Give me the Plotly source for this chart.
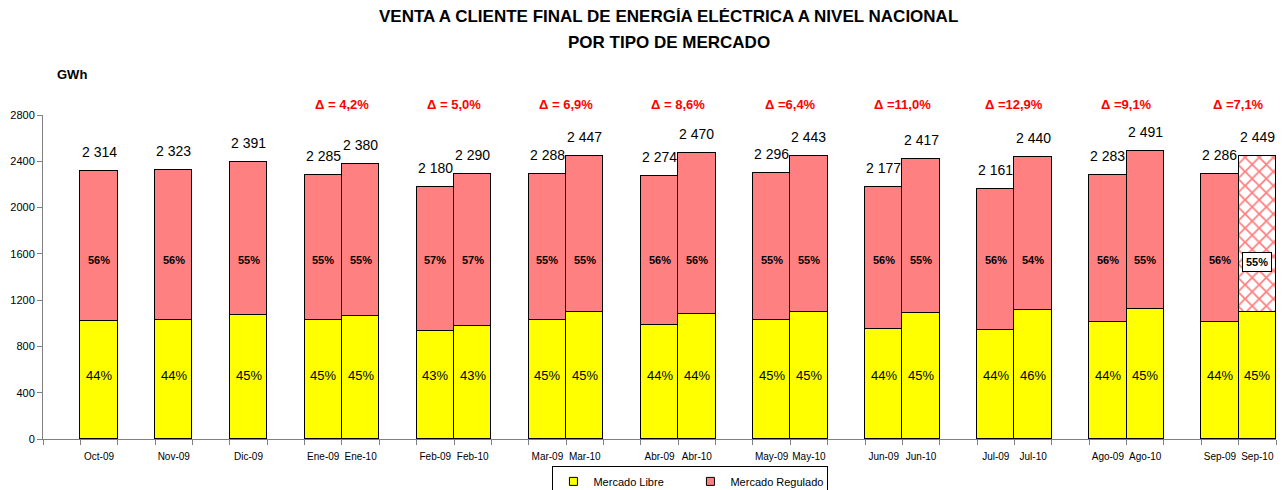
import plotly.graph_objects as go

# ---------------- data ----------------
categories = ["Oct-09", "Nov-09", "Dic-09",
              "Ene-09", "Ene-10", "Feb-09", "Feb-10", "Mar-09", "Mar-10",
              "Abr-09", "Abr-10", "May-09", "May-10", "Jun-09", "Jun-10",
              "Jul-09", "Jul-10", "Ago-09", "Ago-10", "Sep-09", "Sep-10"]
# group id: bars sharing an id are drawn side by side
groups = [0, 1, 2, 3, 3, 4, 4, 5, 5, 6, 6, 7, 7, 8, 8, 9, 9, 10, 10, 11, 11]

libre = [1020, 1025, 1070, 1025, 1062, 935, 978, 1027, 1098, 988, 1082,
         1030, 1098, 952, 1085, 943, 1112, 1010, 1124, 1010, 1095]
regulado = [1294, 1298, 1321, 1260, 1318, 1245, 1312, 1261, 1349, 1286, 1388,
            1266, 1345, 1225, 1332, 1218, 1328, 1273, 1367, 1276, 1354]
total_labels = ["2 314", "2 323", "2 391", "2 285", "2 380", "2 180", "2 290",
                "2 288", "2 447", "2 274", "2 470", "2 296", "2 443", "2 177",
                "2 417", "2 161", "2 440", "2 283", "2 491", "2 286", "2 449"]
pct_libre = ["44%", "44%", "45%", "45%", "45%", "43%", "43%", "45%", "45%",
             "44%", "44%", "45%", "45%", "44%", "45%", "44%", "46%", "44%",
             "45%", "44%", "45%"]
pct_regulado = ["56%", "56%", "55%", "55%", "55%", "57%", "57%", "55%", "55%",
                "56%", "56%", "55%", "55%", "56%", "55%", "56%", "54%", "56%",
                "55%", "56%", "55%"]
delta_labels = ["Δ = 4,2%", "Δ = 5,0%", "Δ = 6,9%", "Δ = 8,6%", "Δ =6,4%",
                "Δ =11,0%", "Δ =12,9%", "Δ =9,1%", "Δ =7,1%"]
y_ticks = [0, 400, 800, 1200, 1600, 2000, 2400, 2800]
title_lines = ["VENTA A CLIENTE FINAL DE ENERGÍA ELÉCTRICA A NIVEL NACIONAL",
               "POR TIPO DE MERCADO"]

FONT = "Arial, Liberation Sans, sans-serif"
YELLOW = "#FFFF00"
PINK = "#FF8080"
# label heights (axis units) used for the percentage labels, as in the original
LIBRE_LABEL_Y = 550
REG_LABEL_Y = 1550

# ---------------- slot positions (one blank slot between groups) ----------------
pos = []
slot = 0
prev = None
for g in groups:
    if g != prev:
        slot += 2 if prev is not None else 1
    else:
        slot += 1
    pos.append(slot)
    prev = g
n_slots = pos[-1] + 1
totals = [a + b for a, b in zip(libre, regulado)]

fig = go.Figure()
fig.add_trace(go.Bar(
    x=pos, y=libre, width=1, name="Mercado Libre", showlegend=False,
    marker=dict(color=YELLOW, line=dict(color="black", width=1)),
    hoverinfo="skip"))
# regulado: all months but the last in solid pink
fig.add_trace(go.Bar(
    x=pos[:-1], y=regulado[:-1], width=1, name="Mercado Regulado", showlegend=False,
    marker=dict(color=PINK, line=dict(color="black", width=1)),
    hoverinfo="skip"))
# last month regulado: hatched
fig.add_trace(go.Bar(
    x=pos[-1:], y=regulado[-1:], width=1, name="Mercado Regulado", showlegend=False,
    marker=dict(color="white", line=dict(color="black", width=1),
                pattern=dict(shape="x", fgcolor="#FF0000", bgcolor="white",
                             size=10, solidity=0.33)),
    hoverinfo="skip"))

# legend entries with small square swatches
for nm, col in [("Mercado Libre", YELLOW), ("Mercado Regulado", PINK)]:
    fig.add_trace(go.Scatter(x=[None], y=[None], mode="markers", name=nm,
                             marker=dict(symbol="square", size=8, color=col,
                                         line=dict(color="black", width=1))))

# percentage labels
for i, x in enumerate(pos):
    fig.add_annotation(x=x, y=LIBRE_LABEL_Y, text=pct_libre[i], showarrow=False,
                       font=dict(family=FONT, size=13, color="black"))
    last = i == len(pos) - 1
    fig.add_annotation(x=x, y=REG_LABEL_Y - (20 if last else 0),
                       text="<b>" + pct_regulado[i] + "</b>", showarrow=False,
                       font=dict(family=FONT, size=11, color="black"),
                       bgcolor="white" if last else None,
                       bordercolor="black" if last else None,
                       borderwidth=1 if last else 0, borderpad=3 if last else 1)

# totals above each bar
for x, t, lab in zip(pos, totals, total_labels):
    fig.add_annotation(x=x, y=t, text=lab, showarrow=False, yanchor="bottom",
                       yshift=9, font=dict(family=FONT, size=14, color="black"))

# delta annotations over each pair
pair_groups = sorted(set(g for g in groups if groups.count(g) == 2))
for lab, g in zip(delta_labels, pair_groups):
    xs = [p for p, gg in zip(pos, groups) if gg == g]
    fig.add_annotation(x=sum(xs) / len(xs), xref="x", y=1.031, yref="paper",
                       yanchor="middle", text="<b>" + lab + "</b>", showarrow=False,
                       font=dict(family=FONT, size=13, color="#FF0000"))

# title (two lines)
for line, yy in zip(title_lines, [1.3025, 1.2253]):
    fig.add_annotation(xref="paper", yref="paper", x=0.5077, y=yy, xanchor="center",
                       yanchor="middle", text="<b>" + line + "</b>", showarrow=False,
                       font=dict(family=FONT, size=17, color="black"))

fig.add_annotation(xref="paper", yref="paper", x=0.0095, y=1.124, xanchor="left",
                   yanchor="middle", text="<b>GWh</b>", showarrow=False,
                   font=dict(family=FONT, size=13, color="black"))

fig.update_layout(
    width=1278, height=482,
    margin=dict(l=35, r=10, t=107, b=51, autoexpand=False),
    paper_bgcolor="white", plot_bgcolor="white",
    barmode="stack", bargap=0,
    font=dict(family=FONT, color="black"),
    legend=dict(orientation="h", xref="container", yref="container",
                x=0.534, xanchor="center", y=0.05, yanchor="top",
                bordercolor="black", borderwidth=1, bgcolor="white",
                font=dict(family=FONT, size=11, color="black"),
                itemwidth=30, entrywidth=92, traceorder="normal"),
    showlegend=True,
)
fig.update_xaxes(range=[-0.5, n_slots - 0.5], tickmode="array", tickvals=pos,
                 ticktext=categories, ticks="", showgrid=False, zeroline=False,
                 showline=True, linecolor="#808080", linewidth=1,
                 ticklabelstandoff=8, automargin=False,
                 tickfont=dict(family=FONT, size=10, color="black"),
                 minor=dict(ticks="outside", tickmode="linear", tick0=-0.5, dtick=1,
                            ticklen=5, tickcolor="#808080", showgrid=False))
fig.update_yaxes(range=[0, 2800], tickmode="array", tickvals=y_ticks,
                 ticks="outside", ticklen=5, tickcolor="#808080",
                 showgrid=False, zeroline=False, showline=True, automargin=False,
                 linecolor="#808080", linewidth=1,
                 tickfont=dict(family=FONT, size=11, color="black"))

fig.write_html("out.html")
